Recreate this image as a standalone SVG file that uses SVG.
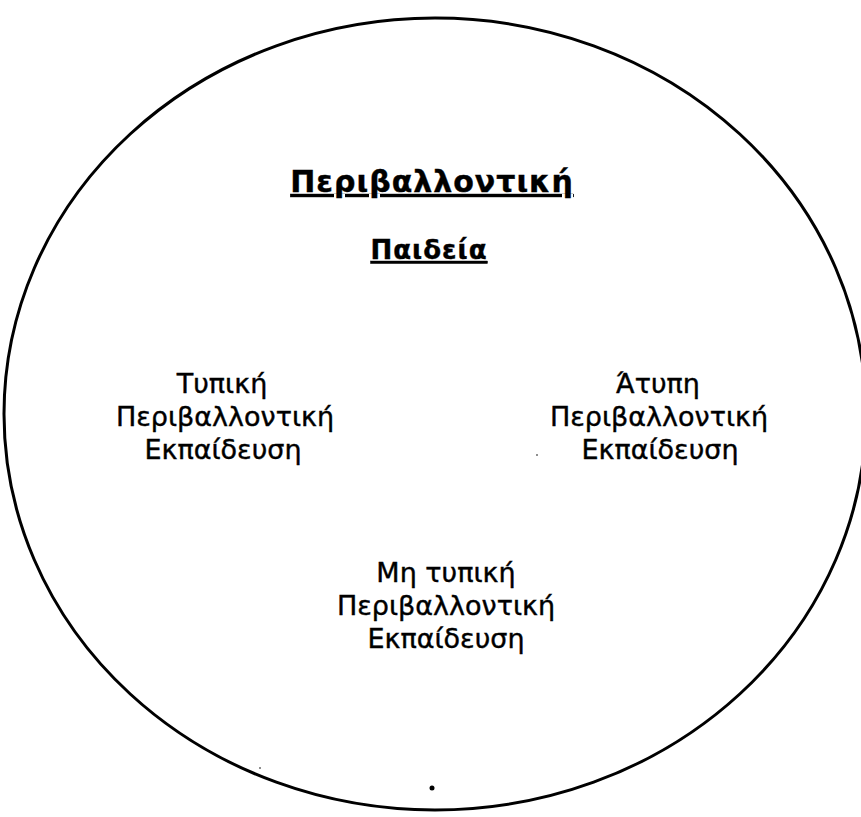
<svg xmlns="http://www.w3.org/2000/svg" width="861" height="817" viewBox="0 0 861 817">
<style>
.t{font-family:"DejaVu Sans","Open Sans",sans-serif;font-size:27px;fill:#000;text-anchor:middle;stroke:#000;stroke-width:0.4}
.h{font-weight:bold;font-size:30px;letter-spacing:1px;text-decoration:underline}
.p{font-size:26px}
</style>
<rect width="861" height="817" fill="#fff"/>
<g id="boundary"><ellipse cx="435" cy="414" rx="431" ry="396" fill="none" stroke="#000" stroke-width="3"/></g>
<g id="title">
<text class="t h" x="432" y="192">Περιβαλλοντική</text>
<text class="t h p" x="429" y="259">Παιδεία</text>
</g>
<g id="formal">
<text class="t" x="222" y="393">Τυπική</text>
<text class="t" x="225" y="426">Περιβαλλοντική</text>
<text class="t" x="223" y="459">Εκπαίδευση</text>
</g>
<g id="informal">
<text class="t" x="658" y="393">Άτυπη</text>
<text class="t" x="659" y="426">Περιβαλλοντική</text>
<text class="t" x="660" y="459">Εκπαίδευση</text>
</g>
<g id="nonformal">
<text class="t" x="446" y="582">Μη τυπική</text>
<text class="t" x="446" y="615">Περιβαλλοντική</text>
<text class="t" x="446" y="648">Εκπαίδευση</text>
</g>
<g id="specks">
<circle cx="432" cy="788" r="2.5" fill="#000"/>
<circle cx="260" cy="768" r="0.8" fill="#000"/>
<circle cx="537" cy="455" r="0.8" fill="#000"/>
</g>
</svg>
